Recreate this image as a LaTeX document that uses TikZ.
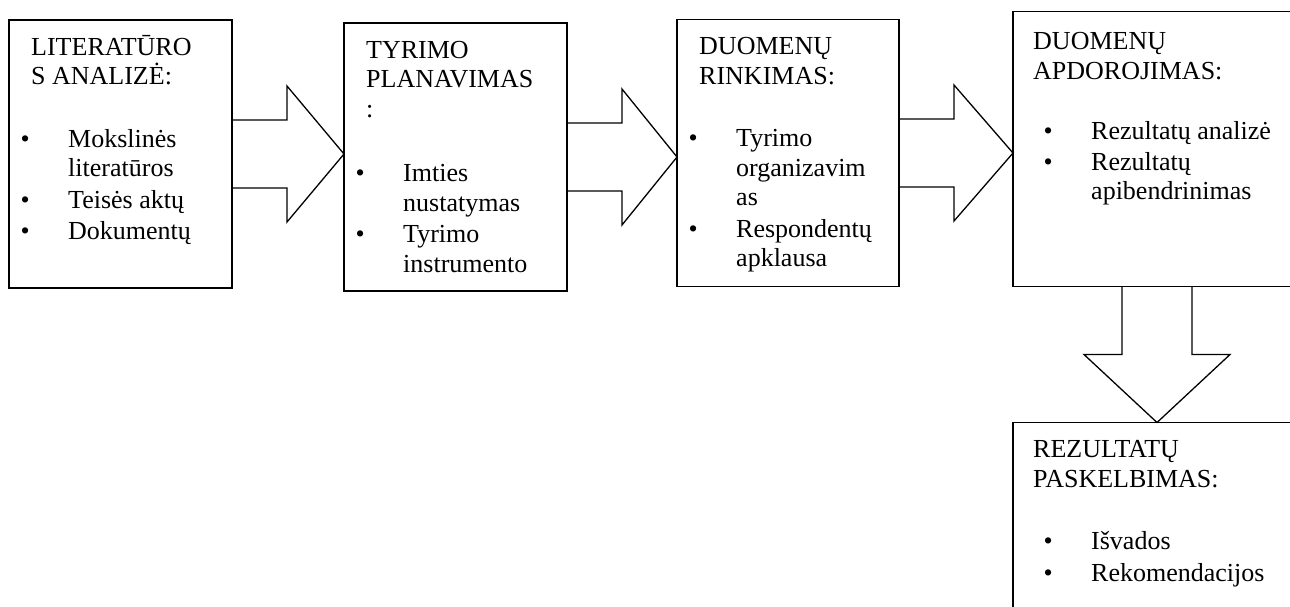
\documentclass[tikz,border=0pt]{standalone}
\usepackage{fontspec}
\setmainfont{Liberation Serif}
\usepackage{tikz}
\usetikzlibrary{positioning,calc}

\tikzset{
  box/.style={draw, line width=1.6pt, inner sep=0pt, outer sep=0pt,
    minimum width=223pt, minimum height=268pt},
  boxtext/.style={anchor=base west, inner sep=0pt,
    font=\fontsize{26pt}{29.5pt}\selectfont},
  blockarrow/.style={draw, line width=1.3pt, line join=miter}
}
\newcommand{\bul}[1]{\makebox[47.5pt][l]{\textbullet}#1}
\newcommand{\cont}[1]{\hspace*{47.5pt}#1}

\begin{document}
\begin{tikzpicture}[x=1pt, y=-1pt]
        \useasboundingbox (0,0) rectangle (1290,606);

        % boxes
        \node[box, anchor=north west] (lit) at (9,20) {};
        \node[box] (plan) [right=112pt of lit, yshift=-3pt] {};
        \node[box, minimum width=222pt, minimum height=267pt] (coll) [right=110pt of plan, yshift=4pt] {};
        \node[box, minimum width=288pt, minimum height=275pt] (proc) [right=114pt of coll, yshift=4pt] {};
        \node[box, minimum width=288pt, minimum height=200pt] (publ) [below=136pt of proc] {};

        % texts
        \node[boxtext] (lit-text) at ($(lit.north west)+(11.5,35)$) {\begin{minipage}[t]{260pt}
            \hspace*{10.5pt}LITERATŪRO\\
            \hspace*{10.5pt}S ANALIZĖ:\\[33pt]
            \bul{Mokslinės}\\
            \cont{literatūros}\\[2pt]
            \bul{Teisės aktų}\\[2pt]
            \bul{Dokumentų}
          \end{minipage}};
        \node[boxtext] (plan-text) at ($(plan.north west)+(11.5,35)$) {\begin{minipage}[t]{260pt}
            \hspace*{10.5pt}TYRIMO\\
            \hspace*{10.5pt}PLANAVIMAS\\
            \hspace*{10.5pt}:\\[35pt]
            \bul{Imties}\\
            \cont{nustatymas}\\[2pt]
            \bul{Tyrimo}\\
            \cont{instrumento}
          \end{minipage}};
        \node[boxtext] (coll-text) at ($(coll.north west)+(11.5,35)$) {\begin{minipage}[t]{260pt}
            \hspace*{10.5pt}DUOMENŲ\\
            \hspace*{10.5pt}RINKIMAS:\\[33pt]
            \bul{Tyrimo}\\
            \cont{organizavim}\\
            \cont{as}\\[2pt]
            \bul{Respondentų}\\
            \cont{apklausa}
          \end{minipage}};
        \node[boxtext] (proc-text) at ($(proc.north west)+(20,38)$) {\begin{minipage}[t]{300pt}
            DUOMENŲ\\
            APDOROJIMAS:\\[31pt]
            \hspace*{10.5pt}\bul{Rezultatų analizė}\\[1pt]
            \hspace*{10.5pt}\bul{Rezultatų}\\
            \hspace*{10.5pt}\cont{apibendrinimas}
          \end{minipage}};
        \node[boxtext] (publ-text) at ($(publ.north west)+(20,35)$) {\begin{minipage}[t]{300pt}
            REZULTATŲ\\
            PASKELBIMAS:\\[33pt]
            \hspace*{10.5pt}\bul{Išvados}\\[2pt]
            \hspace*{10.5pt}\bul{Rekomendacijos}
          \end{minipage}};

        % block arrows
        \foreach \a/\b in {lit/plan, plan/coll, coll/proc}
          \draw[blockarrow] ($(\a.east)+(0,-34)$) -- ++(55,0) -- ++(0,-34)
            -- (\a.east -| \b.west) -- ($(\a.east)+(55,68)$) -- ++(0,-34)
            -- ($(\a.east)+(0,34)$);
        \draw[blockarrow] ($(proc.south)+(-35,0)$) -- ++(0,68) -- ++(-38,0)
            -- (publ.north) -- ($(proc.south)+(73,68)$) -- ++(-38,0)
            -- ($(proc.south)+(35,0)$);
    \end{tikzpicture}
\end{document}
